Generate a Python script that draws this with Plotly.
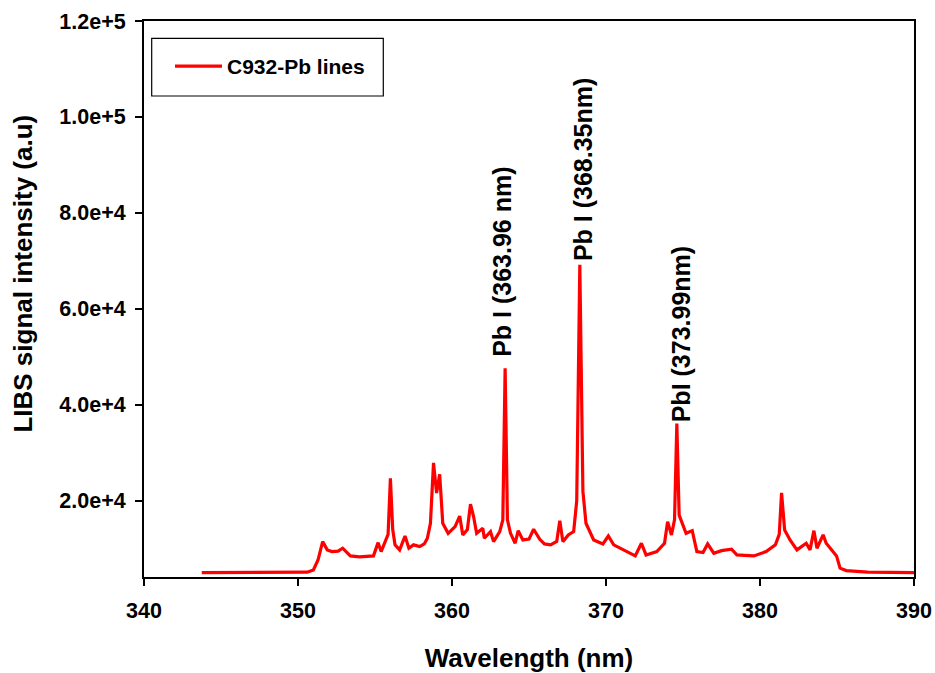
import plotly.graph_objects as go

# Wavelength (nm) and LIBS signal intensity (a.u)
wavelength = [343.75, 350.0, 350.6, 351.0, 351.3, 351.6, 351.9, 352.2, 352.6, 352.9,
              353.4, 354.0, 354.5, 354.9, 355.2, 355.4, 355.7, 355.85, 356.0, 356.15,
              356.3, 356.6, 356.95, 357.2, 357.5, 357.9, 358.2, 358.4, 358.6, 358.8,
              359.0, 359.2, 359.4, 359.75, 360.2, 360.5, 360.7, 361.0, 361.2, 361.4,
              361.6, 362.0, 362.1, 362.5, 362.7, 363.1, 363.3, 363.45, 363.6, 363.8,
              364.1, 364.3, 364.6, 365.0, 365.3, 365.7, 366.0, 366.4, 366.8, 367.0,
              367.2, 367.55, 367.9, 368.1, 368.3, 368.5, 368.7, 369.2, 369.8, 370.15,
              370.5, 371.3, 371.9, 372.3, 372.6, 373.3, 373.8, 374.0, 374.25, 374.45,
              374.6, 374.75, 374.9, 375.2, 375.6, 375.9, 376.3, 376.6, 377.0, 377.5,
              378.15, 378.5, 379.0, 379.6, 380.4, 381.0, 381.25, 381.4, 381.6, 381.95,
              382.4, 382.7, 383.0, 383.25, 383.5, 383.7, 384.1, 384.3, 384.65, 384.97,
              385.2, 385.6, 387.0, 390.0]
intensity = [5000, 5000, 5100, 5550, 7640, 11470, 9750, 9400, 9500, 10100,
             8500, 8300, 8400, 8500, 11260, 9400, 11800, 13000, 24660, 14000,
             10800, 9750, 12650, 10100, 10800, 10430, 11000, 12180, 15300, 27900,
             21600, 25500, 15300, 13200, 14600, 16800, 12870, 14000, 19300, 16700,
             13200, 14250, 12180, 13550, 11470, 13550, 16000, 47600, 16000, 13200,
             11140, 13770, 11830, 12000, 14050, 11960, 11000, 10800, 11500, 15850,
             11470, 12870, 13550, 20000, 69200, 22000, 15300, 11830, 11000, 12650,
             10800, 9400, 8500, 11140, 8700, 9400, 11140, 15640, 12870, 16000,
             36100, 17000, 15640, 13220, 13770, 9400, 9200, 11000, 9050, 9600,
             9900, 8700, 8600, 8500, 9400, 10800, 13000, 21660, 13900, 11830,
             9750, 10430, 11140, 9750, 13760, 10100, 12870, 11140, 9750, 8500,
             5940, 5440, 5100, 5020]

series_name = "C932-Pb lines"

x_ticks = [340, 350, 360, 370, 380, 390]
y_ticks = [20000, 40000, 60000, 80000, 100000, 120000]
y_tick_labels = ["2.0e+4", "4.0e+4", "6.0e+4", "8.0e+4", "1.0e+5", "1.2e+5"]

peak_labels = ["Pb I (363.96 nm)", "Pb I (368.35nm)", "PbI (373.99nm)"]
peak_label_x = [363.28, 368.5, 374.87]
peak_label_y = [49690, 69830, 36140]

FONT = "Liberation Sans, Arial, sans-serif"

# plot area in pixels (layout only)
L, R, T, B = 144, 914, 21, 577
PW, PH = R - L, B - T

fig = go.Figure()
fig.add_trace(go.Scatter(x=wavelength, y=intensity, mode="lines",
                         name="<b>%s</b>" % series_name,
                         line=dict(color="#ff0000", width=3.2)))

for txt, xv, yv in zip(peak_labels, peak_label_x, peak_label_y):
    fig.add_annotation(x=xv, y=yv, text="<b>%s</b>" % txt, textangle=-90,
                       showarrow=False, xanchor="center", yanchor="bottom",
                       borderpad=0,
                       font=dict(family=FONT, size=25, color="black"))

# legend frame
fig.add_shape(type="rect", xref="paper", yref="paper",
              x0=(151.7 - L) / PW, x1=(383.3 - L) / PW,
              y0=(B - 96) / PH, y1=(B - 38.3) / PH,
              line=dict(color="black", width=1.2), fillcolor="rgba(0,0,0,0)")

fig.update_layout(
    width=935, height=673,
    margin=dict(l=L, r=935 - R, t=T, b=673 - B, autoexpand=False),
    paper_bgcolor="white", plot_bgcolor="white",
    font=dict(family=FONT, color="black"),
    showlegend=True,
    legend=dict(x=(170 - L) / PW, y=(B - 46) / PH, xanchor="left", yanchor="top",
                bgcolor="rgba(0,0,0,0)", borderwidth=0, itemwidth=47,
                font=dict(family=FONT, size=21, color="black")),
    xaxis=dict(range=[340, 390], tickvals=x_ticks,
               ticktext=["<b>%d</b>" % v for v in x_ticks],
               ticks="outside", ticklen=7, tickwidth=1.5, tickcolor="black",
               ticklabelstandoff=6,
               showline=True, linecolor="black", linewidth=2, mirror=True,
               showgrid=False, zeroline=False, automargin=False,
               tickfont=dict(family=FONT, size=21.5, color="black"),
               title=dict(text="<b>Wavelength (nm)</b>", standoff=28,
                          font=dict(family=FONT, size=26, color="black"))),
    yaxis=dict(range=[4100, 120000], tickvals=y_ticks,
               ticktext=["<b>%s</b>" % t for t in y_tick_labels],
               ticks="outside", ticklen=7, tickwidth=1.5, tickcolor="black",
               ticklabelstandoff=5,
               showline=True, linecolor="black", linewidth=2, mirror=True,
               showgrid=False, zeroline=False, automargin=False,
               tickfont=dict(family=FONT, size=21.5, color="black"),
               title=dict(text="&nbsp;" * 7 + "<b>LIBS signal intensity (a.u)</b>",
                          standoff=19,
                          font=dict(family=FONT, size=26, color="black"))),
)

fig.write_html("out.html",
               config={"displayModeBar": False},
               post_script="document.body.style.margin='0px';"
                           "document.body.style.overflow='hidden';")
